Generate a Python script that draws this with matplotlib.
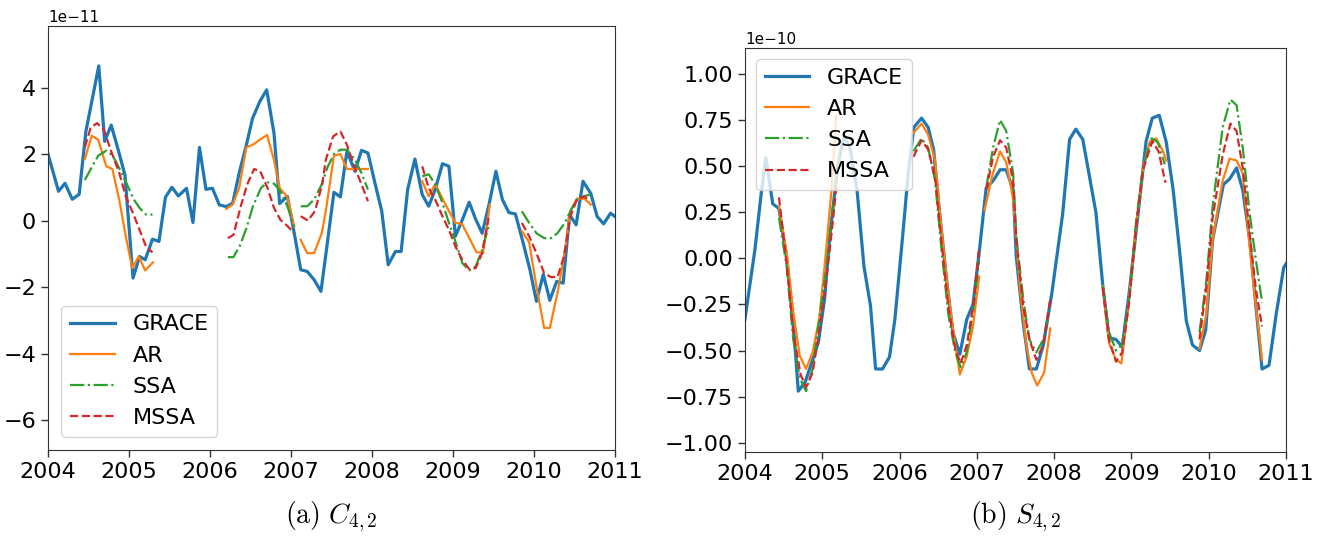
import numpy as np
import matplotlib
matplotlib.use("Agg")
import matplotlib.pyplot as plt

nan = np.nan

# ---------------- (a) C_{4,2}, values in 1e-11 ----------------
c_grace_t = [2004.00, 2004.13, 2004.21, 2004.30, 2004.385, 2004.467, 2004.545, 2004.627, 2004.70, 2004.78,
             2004.87, 2004.95, 2005.05, 2005.13, 2005.20, 2005.29, 2005.37, 2005.45, 2005.53, 2005.61,
             2005.71, 2005.79, 2005.87, 2005.95, 2006.03, 2006.115, 2006.20, 2006.28, 2006.36, 2006.44,
             2006.525, 2006.615, 2006.70, 2006.79, 2006.86, 2006.955, 2007.04, 2007.12, 2007.20, 2007.285,
             2007.37, 2007.45, 2007.53, 2007.61, 2007.69, 2007.79, 2007.87, 2007.95, 2008.04, 2008.12,
             2008.20, 2008.29, 2008.36, 2008.44, 2008.53, 2008.62, 2008.70, 2008.78, 2008.87, 2008.95,
             2009.03, 2009.12, 2009.20, 2009.28, 2009.36, 2009.44, 2009.53, 2009.61, 2009.69, 2009.77,
             2009.85, 2009.95, 2010.03, 2010.115, 2010.195, 2010.28, 2010.36, 2010.44, 2010.52, 2010.605,
             2010.70, 2010.78, 2010.86, 2010.945, 2011.0]
c_grace = [2.0, 0.88, 1.12, 0.64, 0.79, 2.67, 3.63, 4.65, 2.38, 2.87,
           2.1, 1.37, -1.73, -1.08, -1.18, -0.56, -0.63, 0.70, 1.00, 0.74,
           0.97, -0.06, 2.20, 0.94, 0.97, 0.47, 0.42, 0.52, 1.43, 2.18,
           3.07, 3.58, 3.93, 2.63, 0.51, 0.73, -0.38, -1.48, -1.53, -1.78,
           -2.13, -0.65, 0.85, 0.71, 2.08, 1.48, 2.11, 2.03, 1.09, 0.29,
           -1.33, -0.93, -0.93, 0.93, 1.85, 0.78, 0.43, 0.93, 1.71, 1.63,
           -0.47, 0.05, 0.55, 0.04, -0.38, 0.43, 1.48, 0.63, 0.24, 0.20,
           -0.52, -1.48, -2.43, -1.62, -2.40, -1.83, -1.88, 0.18, -0.13, 1.18,
           0.82, 0.12, -0.10, 0.22, 0.12]

c_ar_t = [2004.455, 2004.54, 2004.62, 2004.72, 2004.795, 2004.88, 2004.96, 2005.04, 2005.12, 2005.20, 2005.295, nan,
          2006.20, 2006.28, 2006.36, 2006.45, 2006.53, 2006.615, 2006.705, 2006.79, 2006.86, 2006.955, 2007.04, nan,
          2007.12, 2007.20, 2007.285, 2007.38, 2007.43, 2007.53, 2007.61, 2007.69, 2007.79, 2007.87, 2007.95, nan,
          2008.62, 2008.70, 2008.78, 2008.94, 2009.03, 2009.11, 2009.19, 2009.29, 2009.37, 2009.455, nan,
          2009.85, 2009.94, 2010.03, 2010.125, 2010.195, 2010.29, 2010.38, 2010.45, 2010.53, 2010.62, 2010.70]
c_ar = [1.85, 2.55, 2.43, 1.63, 1.55, 0.62, -0.47, -1.43, -1.08, -1.50, -1.26, nan,
        0.35, 0.48, 0.98, 2.21, 2.28, 2.43, 2.57, 1.82, 0.98, 0.71, -0.18, nan,
        -0.58, -0.98, -0.98, -0.38, 0.29, 1.95, 2.00, 1.55, 1.55, 1.55, 1.55, nan,
        1.18, 0.73, 1.09, 0.33, -0.07, -0.10, -0.47, -0.95, -0.98, 0.48, nan,
        -0.32, -0.65, -1.98, -3.23, -3.23, -2.18, -0.93, 0.29, 0.66, 0.66, 0.48]

c_ssa_t = [2004.455, 2004.54, 2004.62, 2004.72, 2004.80, 2004.885, 2004.975, 2005.06, 2005.13, 2005.21, 2005.29, nan,
           2006.22, 2006.29, 2006.37, 2006.45, 2006.53, 2006.63, 2006.71, 2006.79, 2006.87, 2006.955, 2007.04, nan,
           2007.12, 2007.20, 2007.285, 2007.38, 2007.45, 2007.53, 2007.61, 2007.69, 2007.79, 2007.87, 2007.95, nan,
           2008.62, 2008.70, 2008.78, 2008.87, 2008.95, 2009.03, 2009.115, 2009.20, 2009.28, 2009.36, 2009.44, nan,
           2009.85, 2009.94, 2010.03, 2010.125, 2010.21, 2010.29, 2010.38, 2010.46, 2010.53, 2010.62, 2010.69]
c_ssa = [1.22, 1.60, 1.95, 2.10, 1.95, 1.55, 1.09, 0.63, 0.38, 0.18, 0.18, nan,
         -1.10, -1.10, -0.75, -0.23, 0.43, 0.98, 1.15, 1.11, 0.88, 0.43, -0.18, nan,
         0.43, 0.43, 0.63, 1.09, 1.60, 2.00, 2.13, 2.13, 1.83, 1.43, 0.93, nan,
         1.33, 1.39, 1.09, 0.53, -0.07, -0.63, -1.28, -1.50, -1.38, -0.88, -0.17, nan,
         0.28, -0.07, -0.38, -0.53, -0.53, -0.38, -0.07, 0.33, 0.63, 0.73, 0.78]

c_mssa_t = [2004.455, 2004.525, 2004.605, 2004.69, 2004.78, 2004.88, 2004.96, 2005.05, 2005.13, 2005.21, 2005.29, nan,
            2006.22, 2006.29, 2006.38, 2006.46, 2006.545, 2006.62, 2006.71, 2006.79, 2006.87, 2006.955, 2007.04, nan,
            2007.12, 2007.21, 2007.295, 2007.385, 2007.43, 2007.52, 2007.61, 2007.69, 2007.79, 2007.87, 2007.95, nan,
            2008.62, 2008.70, 2008.78, 2008.87, 2008.95, 2009.03, 2009.115, 2009.20, 2009.28, 2009.36, 2009.44, nan,
            2009.85, 2009.94, 2010.03, 2010.125, 2010.21, 2010.29, 2010.37, 2010.45, 2010.53, 2010.62, 2010.69]
c_mssa = [2.21, 2.78, 2.93, 2.73, 2.08, 1.43, 0.73, 0.22, -0.28, -0.78, -0.96, nan,
          -0.53, -0.43, 0.43, 1.09, 1.55, 1.48, 0.98, 0.38, 0.02, -0.16, -0.38, nan,
          0.13, 0.00, 0.28, 1.09, 1.83, 2.53, 2.68, 2.28, 1.58, 1.09, 0.58, nan,
          1.63, 0.98, 0.63, 0.13, -0.28, -0.78, -1.18, -1.46, -1.43, -0.98, 0.08, nan,
          -0.07, -0.47, -0.98, -1.58, -1.70, -1.70, -1.08, 0.13, 0.63, 0.73, 0.58]

# ---------------- (b) S_{4,2}, values in 1e-10 ----------------
s_grace_t = [2004.00, 2004.13, 2004.21, 2004.27, 2004.36, 2004.44, 2004.54, 2004.625, 2004.69, 2004.78,
             2004.86, 2004.95, 2005.03, 2005.10, 2005.20, 2005.28, 2005.36, 2005.45, 2005.54, 2005.625,
             2005.69, 2005.78, 2005.87, 2005.94, 2006.04, 2006.11, 2006.185, 2006.285, 2006.37, 2006.44,
             2006.52, 2006.61, 2006.69, 2006.78, 2006.87, 2006.95, 2007.03, 2007.12, 2007.21, 2007.30,
             2007.38, 2007.47, 2007.51, 2007.60, 2007.68, 2007.77, 2007.86, 2007.97, 2008.11, 2008.20,
             2008.28, 2008.37, 2008.45, 2008.54, 2008.63, 2008.71, 2008.80, 2008.88, 2008.97, 2009.08,
             2009.19, 2009.27, 2009.36, 2009.45, 2009.54, 2009.63, 2009.71, 2009.79, 2009.88, 2009.96,
             2010.05, 2010.19, 2010.27, 2010.36, 2010.44, 2010.53, 2010.61, 2010.69, 2010.78, 2010.87,
             2010.97, 2011.0]
s_grace = [-0.33, 0.05, 0.35, 0.545, 0.295, 0.27, 0.0, -0.35, -0.72, -0.67,
           -0.57, -0.455, -0.22, 0.13, 0.50, 0.66, 0.60, 0.37, -0.045, -0.26,
           -0.60, -0.60, -0.535, -0.33, 0.12, 0.45, 0.71, 0.76, 0.71, 0.59,
           0.24, -0.12, -0.40, -0.52, -0.33, -0.25, 0.03, 0.38, 0.42, 0.48,
           0.48, 0.37, 0.01, -0.35, -0.60, -0.60, -0.47, -0.19, 0.24, 0.645,
           0.70, 0.645, 0.46, 0.25, -0.15, -0.43, -0.44, -0.48, -0.19, 0.22,
           0.635, 0.76, 0.775, 0.63, 0.37, 0.01, -0.34, -0.47, -0.50, -0.39,
           0.10, 0.40, 0.43, 0.49, 0.37, 0.10, -0.26, -0.60, -0.58, -0.31,
           -0.05, -0.03]

s_ar_t = [2004.44, 2004.54, 2004.625, 2004.71, 2004.79, 2004.875, 2004.96, 2005.03, 2005.12, 2005.18, nan,
          2006.18, 2006.285, 2006.37, 2006.46, 2006.54, 2006.63, 2006.72, 2006.78, 2006.87, 2006.95, 2007.03, nan,
          2007.10, 2007.20, 2007.30, 2007.38, 2007.47, 2007.56, 2007.64, 2007.71, 2007.78, 2007.87, 2007.95, nan,
          2008.63, 2008.71, 2008.80, 2008.87, 2008.96, 2009.06, 2009.15, 2009.24, 2009.32, 2009.41, 2009.45, nan,
          2009.88, 2009.97, 2010.05, 2010.18, 2010.27, 2010.36, 2010.44, 2010.53, 2010.61, 2010.69]
s_ar = [0.28, 0.03, -0.29, -0.53, -0.60, -0.51, -0.33, -0.045, 0.37, 0.77, nan,
        0.68, 0.73, 0.67, 0.53, 0.17, -0.19, -0.47, -0.63, -0.53, -0.37, -0.10, nan,
        0.26, 0.45, 0.58, 0.52, 0.32, -0.17, -0.47, -0.62, -0.69, -0.62, -0.38, nan,
        -0.15, -0.46, -0.55, -0.57, -0.26, 0.17, 0.49, 0.635, 0.65, 0.58, 0.53, nan,
        -0.49, -0.30, 0.10, 0.42, 0.54, 0.53, 0.46, 0.06, -0.26, -0.55]

s_ssa_t = [2004.44, 2004.54, 2004.625, 2004.71, 2004.79, 2004.875, 2004.96, 2005.05, 2005.13, 2005.23, nan,
           2006.18, 2006.285, 2006.37, 2006.46, 2006.54, 2006.63, 2006.72, 2006.79, 2006.87, 2006.96, 2007.03, nan,
           2007.12, 2007.21, 2007.30, 2007.38, 2007.47, 2007.51, 2007.60, 2007.68, 2007.77, 2007.86, 2007.95, nan,
           2008.63, 2008.71, 2008.80, 2008.88, 2008.97, 2009.06, 2009.15, 2009.26, 2009.34, 2009.43, nan,
           2009.88, 2009.97, 2010.05, 2010.18, 2010.28, 2010.36, 2010.44, 2010.53, 2010.61, 2010.69]
s_ssa = [0.22, -0.045, -0.44, -0.65, -0.72, -0.60, -0.33, -0.06, 0.24, 0.59, nan,
         0.58, 0.65, 0.60, 0.42, 0.06, -0.30, -0.51, -0.59, -0.51, -0.26, -0.01, nan,
         0.38, 0.60, 0.75, 0.69, 0.46, 0.12, -0.22, -0.44, -0.51, -0.44, -0.26, nan,
         -0.15, -0.40, -0.50, -0.47, -0.22, 0.20, 0.49, 0.65, 0.63, 0.51, nan,
         -0.40, -0.12, 0.28, 0.71, 0.86, 0.83, 0.60, 0.24, -0.01, -0.24]

s_mssa_t = [2004.44, 2004.54, 2004.625, 2004.72, 2004.79, 2004.875, 2004.96, 2005.05, 2005.13, 2005.19, nan,
            2006.18, 2006.285, 2006.37, 2006.46, 2006.54, 2006.63, 2006.72, 2006.79, 2006.87, 2006.96, 2007.03, nan,
            2007.12, 2007.21, 2007.30, 2007.38, 2007.47, 2007.51, 2007.60, 2007.68, 2007.77, 2007.86, 2007.95, nan,
            2008.63, 2008.71, 2008.80, 2008.88, 2008.97, 2009.06, 2009.15, 2009.27, 2009.35, 2009.44, nan,
            2009.88, 2009.97, 2010.05, 2010.18, 2010.28, 2010.36, 2010.44, 2010.53, 2010.61, 2010.69]
s_mssa = [0.33, -0.03, -0.40, -0.63, -0.70, -0.62, -0.40, -0.12, 0.17, 0.42, nan,
          0.55, 0.64, 0.59, 0.44, 0.10, -0.26, -0.49, -0.57, -0.47, -0.24, 0.06, nan,
          0.37, 0.55, 0.64, 0.60, 0.42, 0.10, -0.26, -0.44, -0.55, -0.47, -0.22, nan,
          -0.16, -0.44, -0.56, -0.51, -0.24, 0.17, 0.48, 0.635, 0.58, 0.41, nan,
          -0.44, -0.15, 0.22, 0.56, 0.73, 0.69, 0.49, 0.13, -0.17, -0.37]

years = [2004, 2005, 2006, 2007, 2008, 2009, 2010, 2011]
labels = ['GRACE', 'AR', 'SSA', 'MSSA']


def draw(ax, scale, g_t, g, ar_t, ar, ssa_t, ssa, mssa_t, mssa):
    s = lambda v: np.array(v, dtype=float) * scale
    ax.plot(g_t, s(g), color='#1f77b4', lw=2.3, label=labels[0])
    ax.plot(ar_t, s(ar), color='#ff7f0e', lw=1.6, label=labels[1])
    ax.plot(ssa_t, s(ssa), color='#2ca02c', lw=1.6, ls='-.', label=labels[2])
    ax.plot(mssa_t, s(mssa), color='#d62728', lw=1.6, ls='--', label=labels[3])
    ax.set_xlim(2004, 2011)
    ax.set_xticks(years)
    ax.set_xticklabels([str(y) for y in years])
    ax.tick_params(labelsize=16, length=5, width=1, color='#333333')
    ax.yaxis.get_offset_text().set_fontsize(11)
    for sp in ax.spines.values():
        sp.set_color('#333333')


fig = plt.figure(figsize=(13.22, 5.37), dpi=100)

ax1 = fig.add_axes([0.0363, 0.162, 0.4289, 0.7896])
draw(ax1, 1e-11, c_grace_t, c_grace, c_ar_t, c_ar, c_ssa_t, c_ssa, c_mssa_t, c_mssa)
ax1.set_ylim(-6.9e-11, 5.85e-11)
ax1.set_yticks(np.arange(-6, 5, 2) * 1e-11)
ax1.legend(loc='lower left', fontsize=16, borderaxespad=0.6)

ax2 = fig.add_axes([0.5635, 0.1583, 0.4093, 0.7523])
draw(ax2, 1e-10, s_grace_t, s_grace, s_ar_t, s_ar, s_ssa_t, s_ssa, s_mssa_t, s_mssa)
ax2.set_ylim(-1.05e-10, 1.14e-10)
ax2.set_yticks(np.arange(-1.0, 1.01, 0.25) * 1e-10)
ax2.legend(loc='upper left', fontsize=16, borderaxespad=0.5)

fig.text(0.2508, 0.037, r'$\mathrm{(a)}\ C_{4,2}$', ha='center', va='center',
         fontsize=20, math_fontfamily='cm')
fig.text(0.7681, 0.037, r'$\mathrm{(b)}\ S_{4,2}$', ha='center', va='center',
         fontsize=20, math_fontfamily='cm')

fig.savefig('out.png', dpi=100)
